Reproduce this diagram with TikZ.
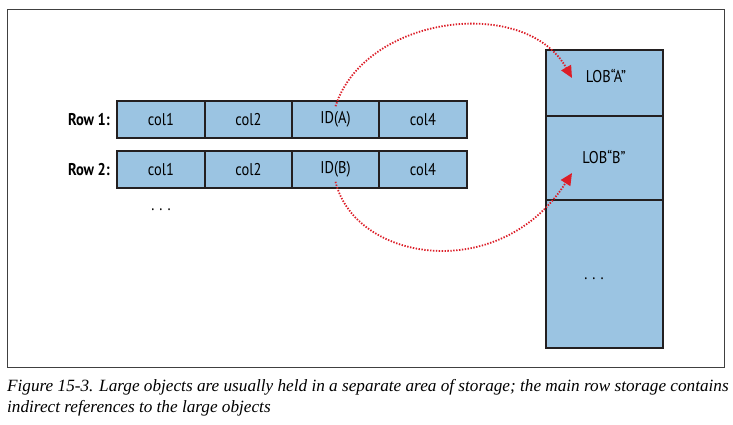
\documentclass[tikz,border=0pt]{standalone}
\usepackage{fontspec}
\usetikzlibrary{arrows.meta}
\newfontfamily\condfont[FakeStretch=0.85]{PT Sans}
\newfontfamily\capfont{Liberation Serif}
\definecolor{cellblue}{RGB}{155,196,226}
\definecolor{lineblack}{RGB}{35,31,32}
\definecolor{arrowred}{RGB}{220,30,40}
\newcommand{\threedots}{.\hspace{5pt}.\hspace{5pt}.}
\begin{document}
\begin{tikzpicture}[x=1pt,y=-1pt,
  cellbox/.style={draw=lineblack,line width=1.5pt,fill=cellblue,minimum height=37pt,inner sep=0pt,font=\condfont\fontsize{17}{19}\selectfont},
  lobbox/.style={draw=lineblack,line width=1.5pt,fill=cellblue,minimum width=117pt,inner sep=0pt},
  rowlabel/.style={anchor=east,inner sep=0pt,font=\condfont\bfseries\fontsize{17}{19}\selectfont},
  dotstext/.style={inner sep=0pt,font=\condfont\fontsize{17}{19}\selectfont},
  refarrow/.style={arrowred,line width=1.8pt,dash pattern=on 1.4pt off 1.5pt,-{Triangle[length=12pt,width=11pt]}}]
\useasboundingbox (0,0) rectangle (733,425);
\draw[draw=black!75,line width=0.9pt] (7,9) rectangle (724,367);
% row 1
\node[cellbox,minimum width=88pt] (r1c1) at (161,119.5) {col1};
\node[cellbox,minimum width=87pt] (r1c2) at (248.5,119.5) {col2};
\node[cellbox,minimum width=87pt] (r1c3) at (335.5,119.5) {ID(A)};
\node[cellbox,minimum width=88pt] (r1c4) at (423,119.5) {col4};
% row 2
\node[cellbox,minimum width=88pt] (r2c1) at (161,169.5) {col1};
\node[cellbox,minimum width=87pt] (r2c2) at (248.5,169.5) {col2};
\node[cellbox,minimum width=87pt] (r2c3) at (335.5,169.5) {ID(B)};
\node[cellbox,minimum width=88pt] (r2c4) at (423,169.5) {col4};
\node[rowlabel] (l1) at (110,119.5) {Row 1:};
\node[rowlabel] (l2) at (110,169.5) {Row 2:};
\node[dotstext,anchor=base] (moreRows) at (161,210) {\threedots};
% LOB column
\node[lobbox,minimum height=66pt] (lobA) at (604.5,83) {};
\node[lobbox,minimum height=84pt] (lobB) at (604.5,158) {};
\node[lobbox,minimum height=148pt] (lobC) at (604.5,274) {};
\node[dotstext] (tA) at (606,76) {LOB“A”};
\node[dotstext] (tB) at (604,157) {LOB“B”};
\node[dotstext,anchor=base] (tC) at (594,279) {\threedots};
% arrows
\draw[refarrow] ([yshift=-6pt]r1c3.north) .. controls (365,15) and (525,-5) .. ([xshift=-32.5pt,yshift=5pt]lobA.center);
\draw[refarrow] ([yshift=7pt]r2c3.south) .. controls (355,262) and (500,285) .. ([xshift=-32.5pt,yshift=-15pt]lobB.center);
% caption
\node[anchor=base west,inner sep=0pt,font=\capfont\itshape\fontsize{17.2}{20}\selectfont] (cap1) at (7,391) {Figure 15-3. Large objects are usually held in a separate area of storage; the main row storage contains};
\node[anchor=base west,inner sep=0pt,font=\capfont\itshape\fontsize{17.2}{20}\selectfont] (cap2) at (7,412) {indirect references to the large objects};
\end{tikzpicture}
\end{document}
